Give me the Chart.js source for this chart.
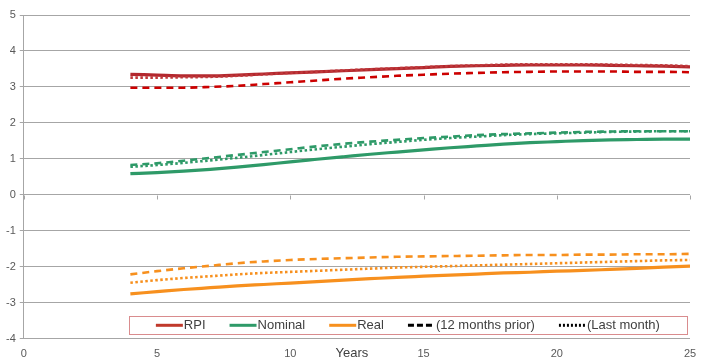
<!DOCTYPE html>
<html>
<head>
<meta charset="utf-8">
<script src="https://cdn.jsdelivr.net/npm/chart.js@4/dist/chart.umd.min.js"></script>
<style>
  html, body { margin: 0; padding: 0; background: #ffffff; }
  #wrap { width: 709px; height: 360px; position: relative; }
</style>
</head>
<body>
<div id="wrap"><canvas id="c" width="709" height="360"></canvas></div>
<script>
// ---- data ----
const years = [4, 5, 6, 7, 8, 9, 10, 11, 12, 13, 14, 15, 16, 17, 18, 19, 20, 21, 22, 23, 24, 25];

const rpiCurrent   = [3.35, 3.33, 3.31, 3.31, 3.33, 3.36, 3.39, 3.42, 3.45, 3.48, 3.51, 3.54, 3.57, 3.59, 3.60, 3.61, 3.61, 3.61, 3.60, 3.59, 3.58, 3.56];
const rpiPrior     = [2.98, 2.98, 2.98, 3.00, 3.03, 3.08, 3.13, 3.18, 3.23, 3.27, 3.31, 3.34, 3.37, 3.39, 3.41, 3.42, 3.43, 3.43, 3.43, 3.42, 3.42, 3.41];
const rpiLastMonth = [3.26, 3.26, 3.27, 3.28, 3.31, 3.35, 3.39, 3.42, 3.46, 3.49, 3.52, 3.55, 3.58, 3.60, 3.62, 3.63, 3.63, 3.63, 3.62, 3.61, 3.60, 3.58];

const nominalCurrent   = [0.59, 0.62, 0.66, 0.71, 0.77, 0.84, 0.92, 0.99, 1.06, 1.13, 1.19, 1.25, 1.31, 1.36, 1.41, 1.45, 1.48, 1.51, 1.53, 1.54, 1.55, 1.55];
const nominalPrior     = [0.83, 0.88, 0.95, 1.03, 1.11, 1.19, 1.27, 1.35, 1.42, 1.48, 1.53, 1.58, 1.62, 1.66, 1.69, 1.71, 1.73, 1.75, 1.76, 1.77, 1.77, 1.77];
const nominalLastMonth = [0.78, 0.83, 0.89, 0.96, 1.03, 1.11, 1.19, 1.27, 1.34, 1.41, 1.47, 1.53, 1.58, 1.62, 1.66, 1.69, 1.71, 1.73, 1.75, 1.76, 1.77, 1.77];

const realCurrent   = [-2.75, -2.69, -2.63, -2.58, -2.53, -2.49, -2.45, -2.41, -2.37, -2.33, -2.29, -2.26, -2.23, -2.20, -2.17, -2.15, -2.12, -2.10, -2.07, -2.04, -2.01, -1.98];
const realPrior     = [-2.21, -2.12, -2.04, -1.97, -1.90, -1.85, -1.81, -1.78, -1.76, -1.74, -1.72, -1.71, -1.70, -1.69, -1.68, -1.67, -1.67, -1.66, -1.66, -1.65, -1.65, -1.64];
const realLastMonth = [-2.44, -2.37, -2.31, -2.26, -2.21, -2.17, -2.14, -2.11, -2.08, -2.05, -2.02, -2.00, -1.98, -1.96, -1.94, -1.92, -1.90, -1.88, -1.86, -1.84, -1.82, -1.81];

const legendLabels = ['RPI', 'Nominal', 'Real', '(12 months prior)', '(Last month)'];
const xAxisTitle = 'Years';
const xMin = 0, xMax = 25, xStep = 5;
const yMin = -4, yMax = 5, yStep = 1;

// ---- styles ----
const RED = '#B3282E', RED_DASH = '#CC0000', RED_DOT = '#C0393B';
const GREEN = '#2E9A68';
const ORANGE = '#F7901E';
const DASH = [7, 5];
const DOT = [2.5, 2.5];

function pts(arr) { return years.map((x, i) => ({ x: x, y: arr[i] })); }
function ds(label, arr, color, dash, width, order) {
  return {
    label: label, data: pts(arr), borderColor: color, backgroundColor: color,
    borderWidth: width, borderDash: dash, pointRadius: 0, fill: false,
    cubicInterpolationMode: 'monotone', borderCapStyle: 'butt', order: order
  };
}

const datasets = [
  ds('RPI', rpiCurrent, RED, [], 3.2, 9),
  ds('RPI (12 months prior)', rpiPrior, RED_DASH, DASH, 2.6, 8),
  ds('RPI (Last month)', rpiLastMonth, RED_DOT, DOT, 2.6, 7),
  ds('Nominal', nominalCurrent, GREEN, [], 3.2, 6),
  ds('Nominal (12 months prior)', nominalPrior, GREEN, DASH, 2.6, 5),
  ds('Nominal (Last month)', nominalLastMonth, GREEN, DOT, 2.6, 4),
  ds('Real', realCurrent, ORANGE, [], 3.2, 3),
  ds('Real (12 months prior)', realPrior, ORANGE, DASH, 2.6, 2),
  ds('Real (Last month)', realLastMonth, ORANGE, DOT, 2.6, 1)
];

const FONT = "'Liberation Sans', Arial, sans-serif";
const GRID = '#A6A6A6';

// legend entries: [label, color, dash]
const legendItems = [
  [legendLabels[0], '#C0392B', []],
  [legendLabels[1], GREEN, []],
  [legendLabels[2], ORANGE, []],
  [legendLabels[3], '#000000', [6, 3]],
  [legendLabels[4], '#000000', [2, 2]]
];

const zeroTicks = {
  id: 'zeroTicks',
  afterDraw(chart) {
    const ctx = chart.ctx, xs = chart.scales.x, ys = chart.scales.y;
    const y0 = Math.round(ys.getPixelForValue(0)) + 0.5;
    ctx.save();
    ctx.strokeStyle = GRID; ctx.lineWidth = 1;
    for (let v = xMin; v <= xMax; v += xStep) {
      const px = Math.round(xs.getPixelForValue(v)) + 0.5;
      ctx.beginPath(); ctx.moveTo(px, y0); ctx.lineTo(px, y0 + 4); ctx.stroke();
    }
    ctx.restore();
  }
};

// axis title drawn on the same row as the x tick labels (as in the reference)
const inlineTitle = {
  id: 'inlineTitle',
  afterDraw(chart) {
    const ctx = chart.ctx, xs = chart.scales.x;
    ctx.save();
    ctx.font = '13px ' + FONT;
    ctx.fillStyle = '#404040';
    ctx.textAlign = 'center';
    ctx.textBaseline = 'middle';
    const cx = (xs.left + xs.right) / 2 - 5;
    ctx.fillText(xAxisTitle, cx, xs.top + 15);
    ctx.restore();
  }
};

const boxLegend = {
  id: 'boxLegend',
  afterDraw(chart) {
    const ctx = chart.ctx, a = chart.chartArea;
    const left = a.left + 105, right = a.right - 3;
    const top = a.bottom - 23, h = 18;
    ctx.save();
    ctx.fillStyle = '#ffffff';
    ctx.fillRect(left, top, right - left, h);
    ctx.strokeStyle = '#D98C8E'; ctx.lineWidth = 1;
    ctx.strokeRect(Math.round(left) + 0.5, Math.round(top) + 0.5, Math.round(right - left), h);
    ctx.font = '13px ' + FONT;
    ctx.textBaseline = 'middle';
    const sample = 27, tgap = 1;
    const widths = legendItems.map(it => ctx.measureText(it[0]).width);
    const content = widths.reduce((s, w) => s + w + sample + tgap, 0);
    const gap = 24;
    const total = content + gap * (legendItems.length - 1);
    let x = left + (right - left - total) / 2;
    const cy = top + h / 2 + 0.5;
    legendItems.forEach((it, i) => {
      ctx.strokeStyle = it[1];
      ctx.lineWidth = 3;
      ctx.setLineDash(it[2]);
      ctx.beginPath(); ctx.moveTo(x, cy); ctx.lineTo(x + sample, cy); ctx.stroke();
      ctx.setLineDash([]);
      ctx.fillStyle = '#404040';
      ctx.fillText(it[0], x + sample + tgap, cy + 0.5);
      x += sample + tgap + widths[i] + gap;
    });
    ctx.restore();
  }
};

new Chart(document.getElementById('c'), {
  type: 'line',
  data: { datasets: datasets },
  options: {
    responsive: false,
    animation: false,
    devicePixelRatio: 1,
    layout: { padding: { top: 15, right: 19, bottom: -10, left: 2 } },
    plugins: { legend: { display: false }, tooltip: { enabled: false } },
    scales: {
      x: {
        type: 'linear', min: xMin, max: xMax,
        ticks: { stepSize: xStep, color: '#595959', font: { family: FONT, size: 11 }, padding: 9 },
        grid: { display: false, drawTicks: false },
        border: { display: false },
        title: { display: false }
      },
      y: {
        min: yMin, max: yMax,
        ticks: { stepSize: yStep, color: '#595959', font: { family: FONT, size: 11 }, padding: 4 },
        grid: { color: GRID, lineWidth: 1, drawTicks: true, tickLength: 4 },
        border: { display: true, color: GRID }
      }
    }
  },
  plugins: [zeroTicks, inlineTitle, boxLegend]
});
</script>
</body>
</html>
